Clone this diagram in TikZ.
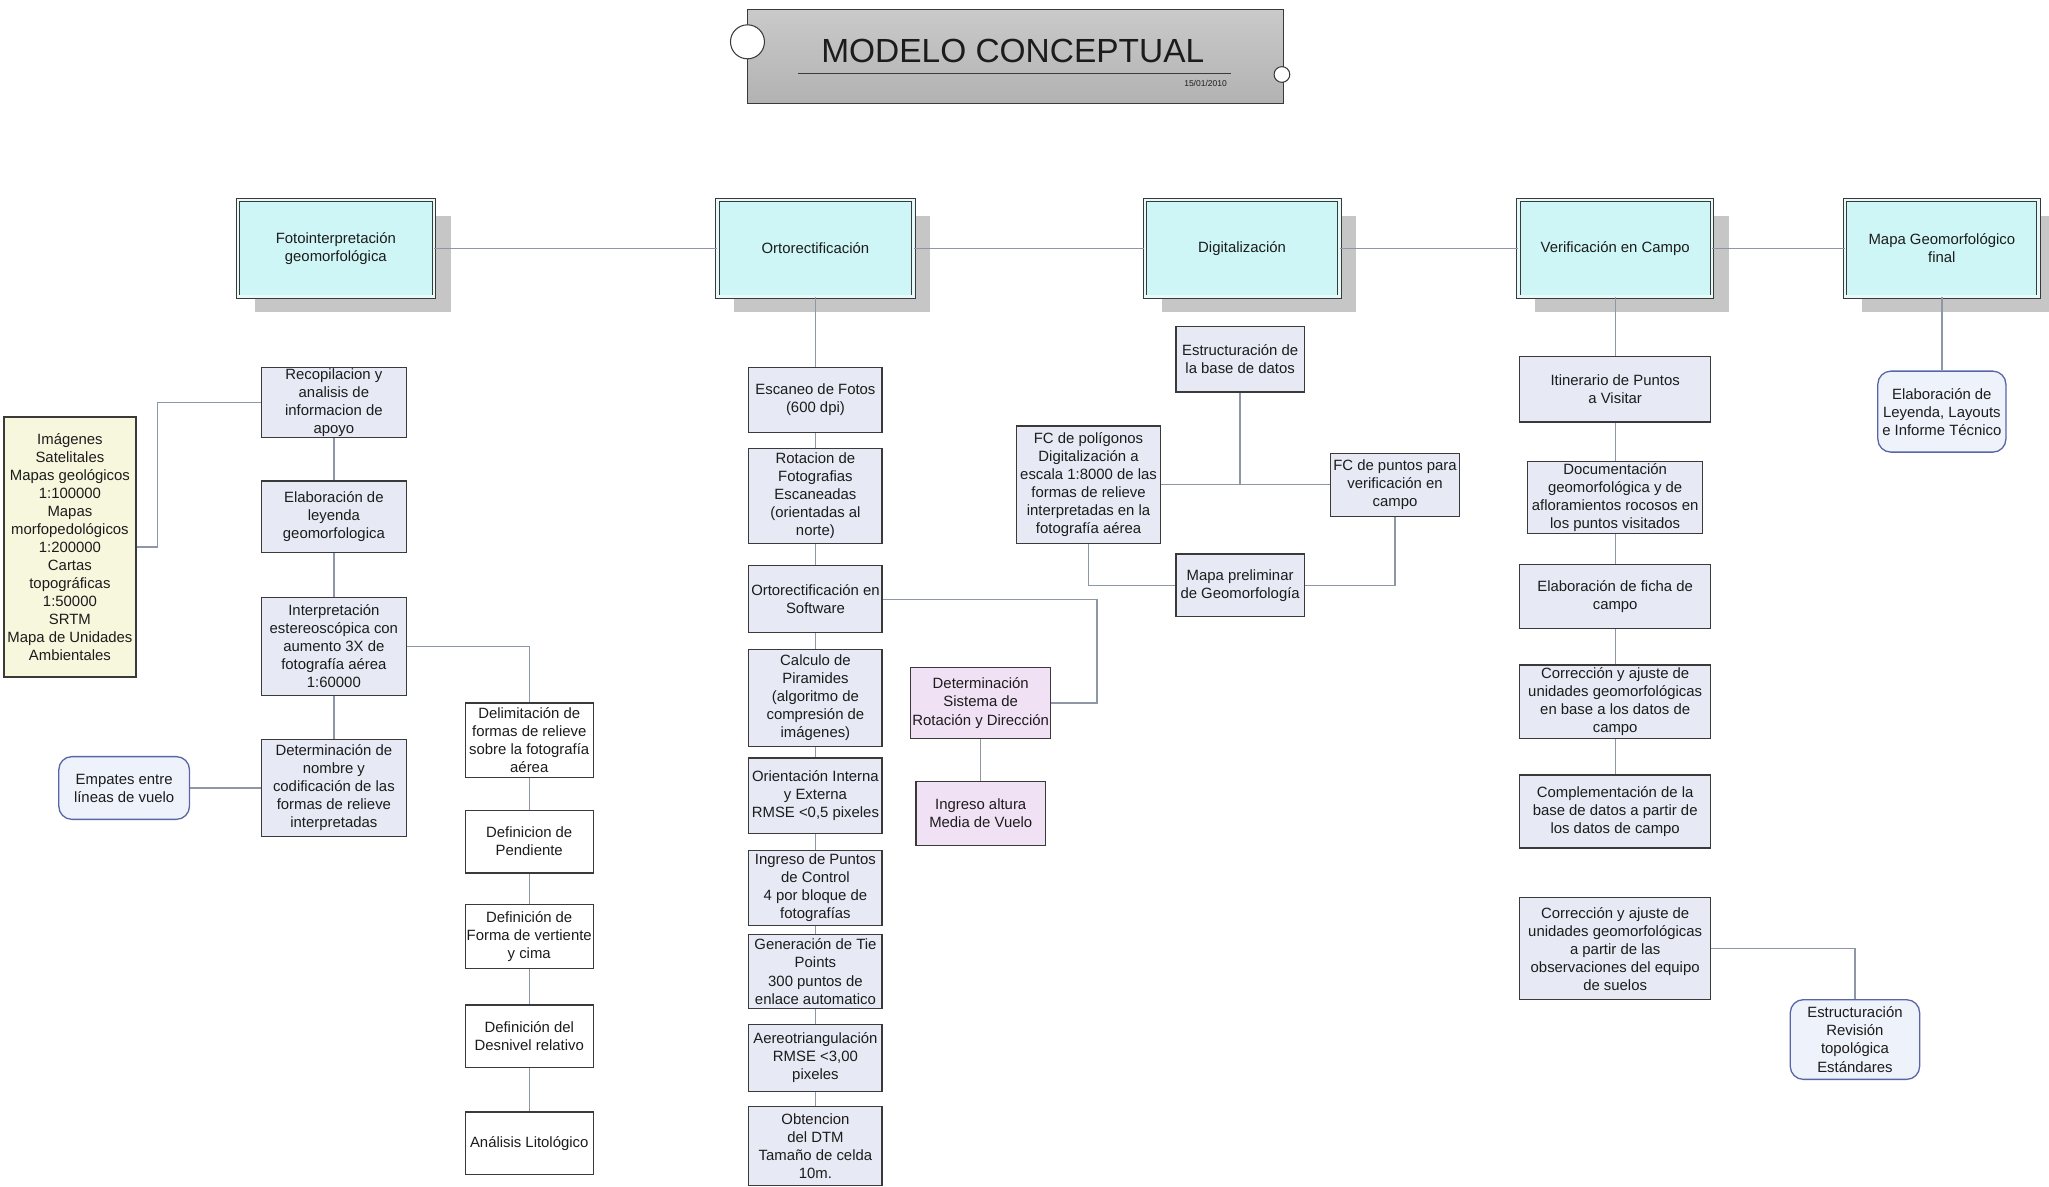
\documentclass[tikz,border=0pt]{standalone}
\usepackage{fontspec}
\setmainfont{Liberation Sans}
\usetikzlibrary{shadows}
\definecolor{maincyan}{HTML}{CFF6F6}
\definecolor{boxfill}{HTML}{E7EAF4}
\definecolor{pinkfill}{HTML}{F1E1F4}
\definecolor{yellowfill}{HTML}{F7F7DD}
\definecolor{roundfill}{HTML}{EEF2FA}
\definecolor{roundline}{HTML}{5866A8}
\definecolor{boxline}{HTML}{3A3A3A}
\definecolor{connc}{HTML}{8E97A6}
\definecolor{shadowgray}{HTML}{C6C6C6}
\definecolor{txt}{HTML}{1C1C1C}
\newcommand\bx[7]{\node[#1, minimum width={#5-#3}, minimum height={#6-#4}] (#2) at ({(#3+#5)/2},{(#4+#6)/2}) {#7};}
\begin{document}
\begin{tikzpicture}[x=1pt,y=-1pt,
  base/.style={inner sep=0pt, align=center, text=txt, font=\fontsize{11.4}{13.8}\selectfont},
  mainbox/.style={base, fill=maincyan, draw=boxline, line width=0.7pt, double=maincyan!50!white, double distance=1.8pt,
     general shadow={fill=shadowgray, shadow xshift=13pt, shadow yshift=-12pt}},
  stepbox/.style={base, fill=boxfill, draw=boxline, line width=1pt},
  whitebox/.style={base, fill=white, draw=boxline, line width=1pt},
  yellowbox/.style={base, fill=yellowfill, draw=boxline, line width=1pt},
  pinkbox/.style={base, fill=pinkfill, draw=boxline, line width=1pt},
  roundbox/.style={base, fill=roundfill, draw=roundline, line width=1pt, rounded corners=10pt},
  connline/.style={draw=connc, line width=1pt}
]
\useasboundingbox[fill=white] (0,0) rectangle (1568,908);

% ---- title ----
\node[draw=boxline, line width=0.8pt, top color=gray!42, middle color=gray!25, bottom color=gray!60,
      minimum width=410, minimum height=72, inner sep=0pt] (title) at (777,43) {};
\node[anchor=base, text=txt, inner sep=0pt, font=\fontsize{25.6}{30}\selectfont] (ttl) at (775,48) {MODELO CONCEPTUAL};
\coordinate (ulA) at (611,56);
\coordinate (ulB) at (942,56);
\draw[line width=1pt, boxline] (ulA) -- (ulB);
\node[anchor=base east, inner sep=0pt, text=txt, font=\fontsize{6.5}{7}\selectfont] (date) at (939,66) {15/01/2010};
\node[circle, draw=boxline, line width=0.8pt, fill=white, minimum size=26, inner sep=0pt] (c1) at (572,32) {};
\node[circle, draw=boxline, line width=0.8pt, fill=white, minimum size=12, inner sep=0pt] (c2) at (981,57) {};

% ---- main row ----
\bx{mainbox}{foto}{182}{153}{332}{227}{Fotointerpretación\\geomorfológica}
\bx{mainbox}{orto}{549}{153}{699}{227}{Ortorectificación}
\bx{mainbox}{digi}{876}{153}{1025}{227}{Digitalización}
\bx{mainbox}{veri}{1162}{153}{1310}{227}{Verificación en Campo}
\bx{mainbox}{mapa}{1412}{153}{1560}{227}{Mapa Geomorfológico\\final}

% ---- column 1 ----
\bx{yellowbox}{img}{3}{319}{104}{518}{Imágenes\\Satelitales\\Mapas geológicos\\1:100000\\Mapas\\morfopedológicos\\1:200000\\Cartas\\topográficas\\1:50000\\SRTM\\Mapa de Unidades\\Ambientales}
\bx{stepbox}{recop}{200}{281}{311}{335}{Recopilacion y\\analisis de\\informacion de\\apoyo}
\bx{stepbox}{elab}{200}{368}{311}{423}{Elaboración de\\leyenda\\geomorfologica}
\bx{stepbox}{interp}{200}{457}{311}{532}{Interpretación\\estereoscópica con\\aumento 3X de\\fotografía aérea\\1:60000}
\bx{stepbox}{determ}{200}{566}{311}{640}{Determinación de\\nombre y\\codificación de las\\formas de relieve\\interpretadas}
\bx{roundbox}{empates}{45}{579}{145}{627}{Empates entre\\líneas de vuelo}
\bx{whitebox}{delim}{356}{538}{454}{595}{Delimitación de\\formas de relieve\\sobre la fotografía\\aérea}
\bx{whitebox}{pend}{356}{620}{454}{668}{Definicion de\\Pendiente}
\bx{whitebox}{forma}{356}{692}{454}{741}{Definición de\\Forma de vertiente\\y cima}
\bx{whitebox}{desn}{356}{769}{454}{817}{Definición del\\Desnivel relativo}
\bx{whitebox}{anal}{356}{851}{454}{899}{Análisis Litológico}

% ---- column 2 ----
\bx{stepbox}{esc}{573}{281}{675}{331}{Escaneo de Fotos\\(600 dpi)}
\bx{stepbox}{rot}{573}{343}{675}{416}{Rotacion de\\Fotografias\\Escaneadas\\(orientadas al\\norte)}
\bx{stepbox}{soft}{573}{433}{675}{484}{Ortorectificación en\\Software}
\bx{stepbox}{calc}{573}{497}{675}{571}{Calculo de\\Piramides\\(algoritmo de\\compresión de\\imágenes)}
\bx{stepbox}{orient}{573}{580}{675}{638}{Orientación Interna\\y Externa\\RMSE <0,5 pixeles}
\bx{stepbox}{ingpc}{573}{651}{675}{708}{Ingreso de Puntos\\de Control\\4 por bloque de\\fotografías}
\bx{stepbox}{gen}{573}{715}{675}{772}{Generación de Tie\\Points\\300 puntos de\\enlace automatico}
\bx{stepbox}{aero}{573}{784}{675}{835}{Aereotriangulación\\RMSE <3,00\\pixeles}
\bx{stepbox}{dtm}{573}{847}{675}{907}{Obtencion\\del DTM\\Tamaño de celda\\10m.}
\bx{pinkbox}{deter}{697}{511}{804}{565}{Determinación\\Sistema de\\Rotación y Dirección}
\bx{pinkbox}{ingalt}{701}{598}{800}{647}{Ingreso altura\\Media de Vuelo}

% ---- column 3 ----
\bx{stepbox}{estr}{900}{250}{998}{300}{Estructuración de\\la base de datos}
\bx{stepbox}{fcpol}{778}{326}{888}{416}{FC de polígonos\\Digitalización a\\escala 1:8000 de las\\formas de relieve\\interpretadas en la\\fotografía aérea}
\bx{stepbox}{fcpun}{1018}{347}{1117}{395}{FC de puntos para\\verificación en\\campo}
\bx{stepbox}{mprel}{900}{424}{998}{472}{Mapa preliminar\\de Geomorfología}

% ---- column 4 ----
\bx{stepbox}{itin}{1163}{273}{1309}{323}{Itinerario de Puntos\\a Visitar}
\bx{stepbox}{docu}{1169}{353}{1303}{408}{Documentación\\geomorfológica y de\\afloramientos rocosos en\\los puntos visitados}
\bx{stepbox}{ficha}{1163}{432}{1309}{481}{Elaboración de ficha de\\campo}
\bx{stepbox}{corr1}{1163}{509}{1309}{565}{Corrección y ajuste de\\unidades geomorfológicas\\en base a los datos de\\campo}
\bx{stepbox}{compl}{1163}{593}{1309}{649}{Complementación de la\\base de datos a partir de\\los datos de campo}
\bx{stepbox}{corr2}{1163}{687}{1309}{765}{Corrección y ajuste de\\unidades geomorfológicas\\a partir de las\\observaciones del equipo\\de suelos}
\bx{roundbox}{estr2}{1370}{765}{1469}{826}{Estructuración\\Revisión\\topológica\\Estándares}

% ---- column 5 ----
\bx{roundbox}{elab2}{1437}{284}{1535}{346}{Elaboración de\\Leyenda, Layouts\\e Informe Técnico}

% ---- connectors ----
\begin{scope}[connline]
\draw (foto.east) -- (orto.west);
\draw (orto.east) -- (digi.west);
\draw (digi.east) -- (veri.west);
\draw (veri.east) -- (mapa.west);
% col 1
\draw (img.east) -- ++(16,0) |- (recop.west);
\draw (recop.south) -- (elab.north);
\draw (elab.south) -- (interp.north);
\draw (interp.south) -- (determ.north);
\draw (empates.east) -- (determ.west);
\draw (interp.east) -| (delim.north);
\draw (delim.south) -- (pend.north);
\draw (pend.south) -- (forma.north);
\draw (forma.south) -- (desn.north);
\draw (desn.south) -- (anal.north);
% col 2
\draw (orto.south) -- (esc.north);
\draw (esc.south) -- (rot.north);
\draw (rot.south) -- (soft.north);
\draw (soft.south) -- (calc.north);
\draw (calc.south) -- (orient.north);
\draw (orient.south) -- (ingpc.north);
\draw (ingpc.south) -- (gen.north);
\draw (gen.south) -- (aero.north);
\draw (aero.south) -- (dtm.north);
\draw (soft.east) -- ++(164,0) |- (deter.east);
\draw (deter.south) -- (ingalt.north);
% col 3
\draw (estr.south) -- (estr.south |- fcpol.east);
\draw (fcpol.east) -- (fcpun.west);
\draw (fcpol.south) |- (mprel.west);
\draw (fcpun.south) |- (mprel.east);
% col 4
\draw (veri.south) -- (itin.north);
\draw (itin.south) -- (docu.north);
\draw (docu.south) -- (ficha.north);
\draw (ficha.south) -- (corr1.north);
\draw (corr1.south) -- (compl.north);
\draw (corr2.east) -| (estr2.north);
% col 5
\draw (mapa.south) -- (elab2.north);
\end{scope}
\end{tikzpicture}
\end{document}
